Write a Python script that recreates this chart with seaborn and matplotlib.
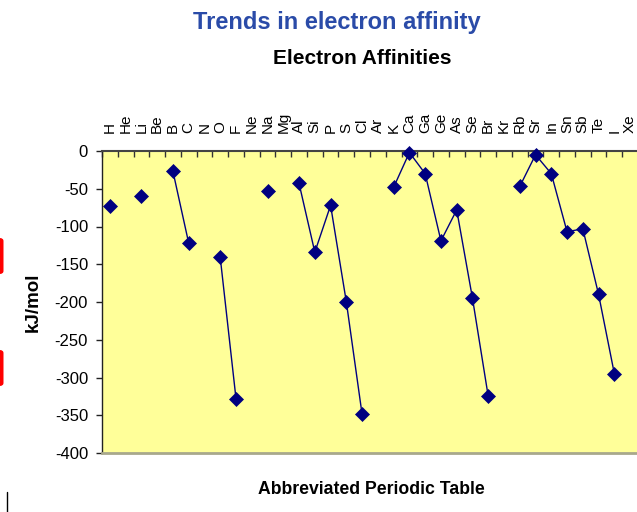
import numpy as np
import pandas as pd
import matplotlib
matplotlib.use("Agg")
import matplotlib.pyplot as plt
import seaborn as sns
from matplotlib.patches import FancyBboxPatch
from matplotlib.lines import Line2D

# ---- data ----
elements = ["H", "He", "Li", "Be", "B", "C", "N", "O", "F", "Ne",
            "Na", "Mg", "Al", "Si", "P", "S", "Cl", "Ar",
            "K", "Ca", "Ga", "Ge", "As", "Se", "Br", "Kr",
            "Rb", "Sr", "In", "Sn", "Sb", "Te", "I", "Xe"]
affinity = [-73, None, -60, None, -27, -122, None, -141, -328, None,
            -53, None, -43, -134, -72, -200, -349, None,
            -48, -2, -30, -119, -78, -195, -325, None,
            -47, -5, -30, -107, -103, -190, -295, None]
yticks = [0, -50, -100, -150, -200, -250, -300, -350, -400]

sns.set_theme(style="white")
plt.rcParams["font.family"] = ["Liberation Sans", "DejaVu Sans"]

df = pd.DataFrame({
    "element": elements,
    "pos": np.arange(len(elements)),
    "ea": [np.nan if v is None else float(v) for v in affinity],
})
df["seg"] = df["ea"].isna().cumsum()
d = df.dropna()

W, H = 637, 512
fig = plt.figure(figsize=(W / 100, H / 100), dpi=100)
ax = fig.add_axes([102 / W, 59 / H, 536 / W, 302 / H])
ax.set_facecolor("#FFFF99")

navy = "#000080"
sns.lineplot(data=d, x="pos", y="ea", units="seg", estimator=None,
             color=navy, marker="D", markersize=7, markeredgewidth=0.5,
             markeredgecolor=navy, linewidth=1, ax=ax, legend=False)
for ln in ax.lines:
    ln.set_clip_on(False)
    ln.set_zorder(5)

ax.set_xlim(-0.5, len(elements) - 0.5)
ax.set_ylim(-400, 0)

# x axis on top: tick marks between categories, labels at categories
ax.xaxis.tick_top()
ax.set_xticks(np.arange(-0.5, len(elements), 1.0))
ax.set_xticklabels([])
ax.set_xticks(np.arange(len(elements)), minor=True)
ax.set_xticklabels(elements, minor=True, rotation=90)
ax.tick_params(axis="x", which="major", top=True, bottom=False,
               direction="in", length=4, width=1, color="#333333",
               labeltop=False, labelbottom=False)
ax.tick_params(axis="x", which="minor", top=True, bottom=False,
               labeltop=True, labelbottom=False, length=0, pad=13,
               labelsize=11, labelcolor="black")

ax.set_yticks(yticks)
ax.set_yticklabels([str(v) for v in yticks])
ax.tick_params(axis="y", left=True, direction="out", length=4, width=1,
               color="#222222", labelsize=12, pad=6, labelcolor="black")
ax.grid(False)

ax.spines["right"].set_visible(False)
ax.spines["top"].set_color("#444444")
ax.spines["top"].set_linewidth(1.5)
ax.spines["left"].set_color("#222222")
ax.spines["left"].set_linewidth(1)
ax.spines["bottom"].set_color("#A8A88C")
ax.spines["bottom"].set_linewidth(2)

ax.set_ylabel("kJ/mol", fontsize=13.5, fontweight="bold", color="black")
ax.yaxis.set_label_coords(-0.112, 0.5)
ax.set_xlabel("Abbreviated Periodic Table", fontsize=12.7, fontweight="bold", color="black")
ax.xaxis.set_label_position("bottom")
ax.xaxis.set_label_coords(0.502, -0.093)

fig.text(336.7 / W, 1 - 23 / H, "Trends in electron affinity", ha="center", va="center",
         fontsize=17, fontweight="bold", color="#2A4BA8")
fig.text(362.6 / W, 1 - 59 / H, "Electron Affinities", ha="center", va="center",
         fontsize=15, fontweight="bold", color="black")

# slide artifacts at the left edge
for y0, y1 in [(238, 274), (350, 386)]:
    p = FancyBboxPatch((-20 / W, 1 - y1 / H), 23.5 / W, (y1 - y0) / H,
                       boxstyle="round,pad=0,rounding_size=0.006",
                       transform=fig.transFigure, facecolor="#FF0000",
                       edgecolor="#FF0000", linewidth=0)
    fig.patches.append(p)
fig.lines.append(Line2D([7 / W, 7 / W], [0, 20 / H], transform=fig.transFigure,
                        color="black", linewidth=1))

fig.savefig("out.png", dpi=100)
